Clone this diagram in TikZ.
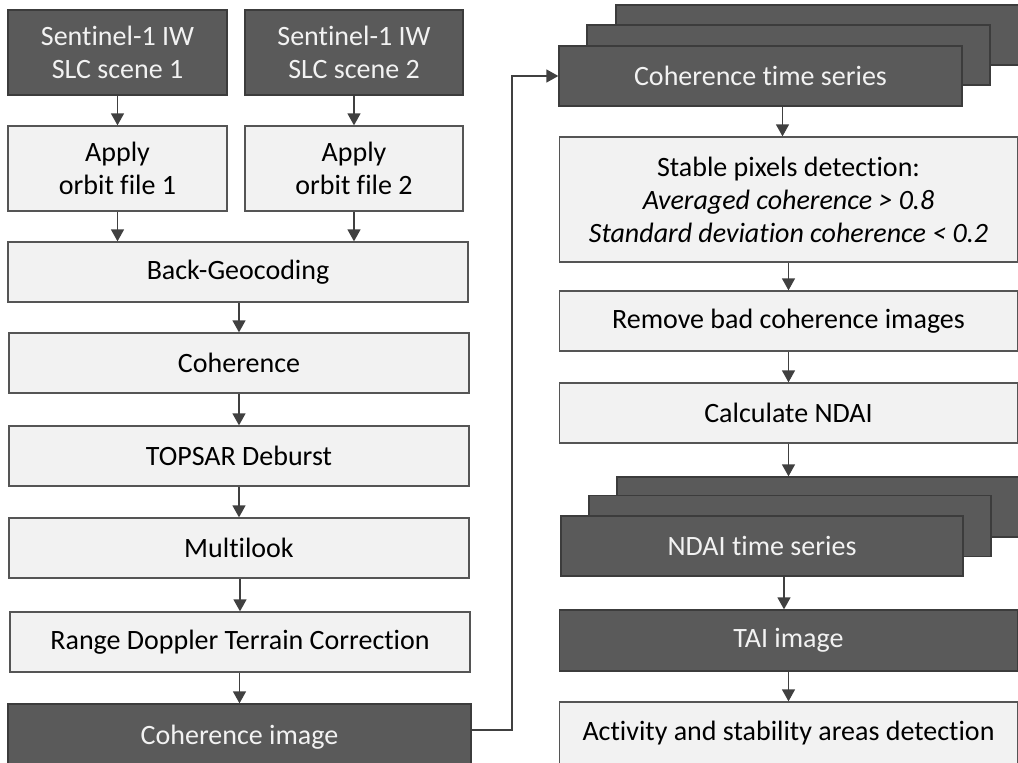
\documentclass[tikz,border=0pt]{standalone}
\usepackage{fontspec}
\setmainfont{Carlito}[Ligatures=NoCommon]
\usetikzlibrary{arrows.meta}
\definecolor{darkfill}{HTML}{5A5A5A}
\definecolor{darkline}{HTML}{3C3C3C}
\definecolor{lightfill}{HTML}{F2F2F2}
\definecolor{lightline}{HTML}{555555}
\definecolor{darktext}{HTML}{F2F2F2}
\definecolor{arrowcol}{HTML}{404040}
\tikzset{
  box/.style={rectangle, inner sep=0pt, line width=1.3pt, align=center,
    font=\fontsize{28}{33}\selectfont},
  lightbox/.style={box, draw=lightline, fill=lightfill, text=black},
  darkbox/.style={box, draw=darkline, fill=darkfill, text=darktext},
  flow/.style={draw=arrowcol, line width=1.4pt, -{Triangle[width=13pt,length=12pt]}},
}
\begin{document}
\begin{tikzpicture}[x=1pt, y=-1pt]
\useasboundingbox (0,0) rectangle (1018,763);
\begin{scope}
\clip (0,0) rectangle (1018,763);

% left column: interferometric coherence processing
\node[darkbox, minimum width=219pt, minimum height=85pt] (s1) at (117.5,52.5) {Sentinel-1 IW\\SLC scene 1};
\node[darkbox, minimum width=218pt, minimum height=85pt] (s2) at (354,52.5) {Sentinel-1 IW\\SLC scene 2};
\node[lightbox, minimum width=219pt, minimum height=85pt] (o1) at (117.5,168.5) {Apply\\orbit file 1};
\node[lightbox, minimum width=218pt, minimum height=85pt] (o2) at (354,168.5) {Apply\\orbit file 2};
\node[lightbox, minimum width=460pt, minimum height=60pt] (bg) at (238,272) {Back-Geocoding};
\node[lightbox, minimum width=460pt, minimum height=60pt] (coh) at (239,363) {Coherence};
\node[lightbox, minimum width=460pt, minimum height=60pt] (tops) at (239,456) {TOPSAR Deburst};
\node[lightbox, minimum width=460pt, minimum height=60pt] (ml) at (239,548) {Multilook};
\node[lightbox, minimum width=460pt, minimum height=60pt] (rd) at (240,642) {Range Doppler Terrain Correction};
\node[darkbox, minimum width=463pt, minimum height=66pt] (ci) at (239.5,737) {Coherence image};

% right column: time series analysis
\node[darkbox, minimum width=403pt, minimum height=60pt] (ctsb) at (817.5,35) {};
\node[darkbox, minimum width=403pt, minimum height=60pt] (ctsm) at (788.5,55) {};
\node[darkbox, minimum width=403pt, minimum height=60pt] (cts) at (760.5,76) {Coherence time series};
\node[lightbox, minimum width=458pt, minimum height=125pt] (stable) at (788.5,199.5)
  {Stable pixels detection:\\\textit{Averaged coherence > 0.8}\\\textit{Standard deviation coherence < 0.2}};
\node[lightbox, minimum width=458pt, minimum height=60pt] (rem) at (788.5,321) {Remove bad coherence images};
\node[lightbox, minimum width=458pt, minimum height=60pt] (ndai) at (788.5,413) {Calculate NDAI};
\node[darkbox, minimum width=402pt, minimum height=60pt] (ntsb) at (818,507) {};
\node[darkbox, minimum width=402pt, minimum height=61pt] (ntsm) at (790,526) {};
\node[darkbox, minimum width=402pt, minimum height=60pt] (nts) at (762,546) {NDAI time series};
\node[darkbox, minimum width=458pt, minimum height=61pt] (tai) at (788.5,640.5) {TAI image};
\node[lightbox, minimum width=458pt, minimum height=62pt] (act) at (788.5,733) {Activity and stability areas detection};
\end{scope}

% connectors
\draw[flow] (s1) -- (o1);
\draw[flow] (s2) -- (o2);
\draw[flow] (o1.south) -- (o1.south |- bg.north);
\draw[flow] (o2.south) -- (o2.south |- bg.north);
\draw[flow] (bg.south -| coh.north) -- (coh.north);
\draw[flow] (coh) -- (tops);
\draw[flow] (tops) -- (ml);
\draw[flow] (ml.south -| rd.north) -- (rd.north);
\draw[flow] (rd.south -| ci.north) -- (ci.north);

\coordinate (turn) at (512,400);
\draw[flow] (ci.east |- 0,730) -- (turn |- 0,730) -- (turn |- cts.west) -- (cts.west);

\draw[flow] ([xshift=22pt]cts.south) -- ([xshift=22pt]cts.south |- stable.north);
\draw[flow] (stable) -- (rem);
\draw[flow] (rem) -- (ndai);
\draw[flow] (ndai.south) -- (ndai.south |- ntsb.north);
\draw[flow] ([xshift=22pt]nts.south) -- ([xshift=22pt]nts.south |- tai.north);
\draw[flow] (tai) -- (act);
\end{tikzpicture}
\end{document}
